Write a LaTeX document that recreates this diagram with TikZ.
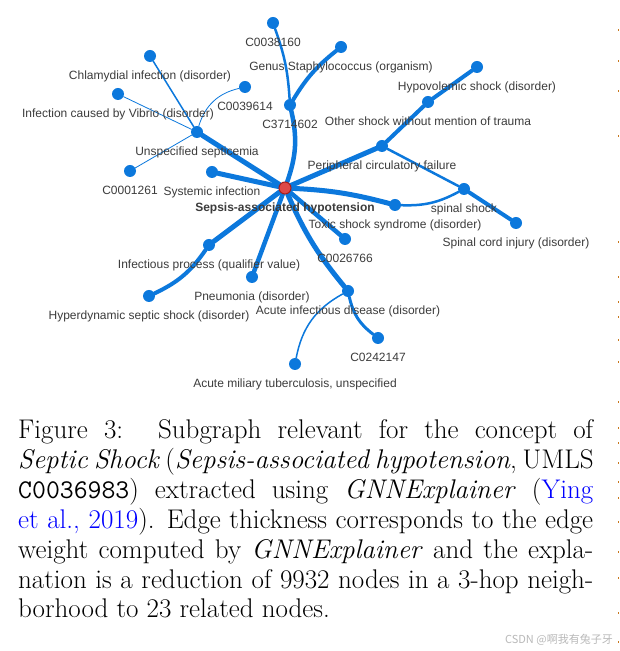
\documentclass[tikz,border=0pt]{standalone}
\usepackage{fontspec}
\newfontfamily\lsans{Liberation Sans}
\newfontfamily\cjkfont{Noto Sans CJK SC}
\usetikzlibrary{backgrounds}
\definecolor{eblue}{RGB}{12,120,220}
\definecolor{ltxt}{RGB}{60,60,60}
\definecolor{nred}{RGB}{222,72,72}
\definecolor{nredd}{RGB}{165,30,30}
\definecolor{cblue}{RGB}{0,0,255}
\definecolor{wmark}{RGB}{185,185,185}
\definecolor{tickc}{RGB}{200,120,30}
\begin{document}
\begin{tikzpicture}[x=1pt,y=1pt,
  gnode/.style={circle,fill=eblue,inner sep=0pt,minimum size=12pt},
  cnode/.style={circle,fill=nred,draw=nredd,line width=1pt,inner sep=0pt,minimum size=12pt},
  lbl/.style={font=\lsans\fontsize{12}{14}\selectfont,text=ltxt,inner sep=0pt,text height=9pt,text depth=3pt,label distance=8pt},
  blbl/.style={lbl,font=\lsans\bfseries\fontsize{12}{14}\selectfont},
  edge/.style={draw=eblue,line cap=round},
  w5/.style={edge,line width=5pt},
  w45/.style={edge,line width=4.5pt},
  w4/.style={edge,line width=4pt},
  w3/.style={edge,line width=3pt},
  w25/.style={edge,line width=2.5pt},
  w15/.style={edge,line width=1.5pt},
  w08/.style={edge,line width=0.8pt},
  capline/.style={anchor=base west,inner sep=0pt,font=\fontsize{27}{30}\selectfont},
  tickmark/.style={fill=tickc,inner sep=0pt,minimum width=1.5pt,minimum height=1.5pt}
]
\useasboundingbox (0,0) rectangle (620,651);

% graph nodes
\node[cnode,label={[blbl]below:Sepsis-associated hypotension}] (sah) at (285,463) {};
\node[gnode,label={[lbl]below:C0038160}] (c38) at (273,628) {};
\node[gnode,label={[lbl]below:Genus Staphylococcus (organism)}] (staph) at (341,604) {};
\node[gnode,label={[lbl]below:C3714602}] (c37) at (290,546) {};
\node[gnode,label={[lbl]below:Chlamydial infection (disorder)}] (chl) at (150,595) {};
\node[gnode,label={[lbl]below:C0039614}] (c39) at (245,564) {};
\node[gnode,label={[lbl]below:Infection caused by Vibrio (disorder)}] (vib) at (118,557) {};
\node[gnode,label={[lbl]below:Unspecified septicemia}] (uns) at (197,519) {};
\node[gnode,label={[lbl]below:C0001261}] (c01) at (130,480) {};
\node[gnode,label={[lbl]below:Systemic infection}] (sys) at (212,479) {};
\node[gnode,label={[lbl]below:Peripheral circulatory failure}] (per) at (382,505) {};
\node[gnode,label={[lbl]below:Other shock without mention of trauma}] (oth) at (428,549) {};
\node[gnode,label={[lbl]below:Hypovolemic shock (disorder)}] (hyp) at (477,584) {};
\node[gnode,label={[lbl]below:spinal shock}] (spi) at (464,462) {};
\node[gnode,label={[lbl]below:Spinal cord injury (disorder)}] (sci) at (516,428) {};
\node[gnode,label={[lbl]below:Toxic shock syndrome (disorder)}] (tox) at (395,446) {};
\node[gnode,label={[lbl]below:C0026766}] (c26) at (345,412) {};
\node[gnode,label={[lbl]below:Infectious process (qualifier value)}] (inf) at (209,406) {};
\node[gnode,label={[lbl]below:Pneumonia (disorder)}] (pne) at (252,374) {};
\node[gnode,label={[lbl]below:Hyperdynamic septic shock (disorder)}] (hdy) at (149,355) {};
\node[gnode,label={[lbl]below:Acute infectious disease (disorder)}] (acu) at (348,360) {};
\node[gnode,label={[lbl]below:C0242147}] (c24) at (378,313) {};
\node[gnode,label={[lbl]below:Acute miliary tuberculosis, unspecified}] (mil) at (295,287) {};

% edges
\begin{scope}[on background layer]
\fill[white] (0,0) rectangle (620,651);
\draw[w45] (sah) to[bend right=16] (c37);
\draw[w25] (c37) to[bend right=8] (c38);
\draw[w4] (c37) to[bend left=10] (staph);
\draw[w5] (sah) -- (uns);
\draw[w15] (uns) -- (chl);
\draw[w08] (uns) to[bend left=30] (c39);
\draw[w08] (uns) -- (vib);
\draw[w08] (uns) -- (c01);
\draw[w5] (sah) -- (sys);
\draw[w5] (sah) -- (per);
\draw[w4] (per) -- (oth);
\draw[w4] (oth) -- (hyp);
\draw[w25] (per) -- (spi);
\draw[w4] (spi) -- (sci);
\draw[w5] (sah) to[bend left=6] (tox);
\draw[w25] (tox) to[bend right=15] (spi);
\draw[w45] (sah) -- (c26);
\draw[w5] (sah) to[bend right=8] (acu);
\draw[w3] (acu) to[bend right=20] (c24);
\draw[w15] (acu) to[bend right=25] (mil);
\draw[w5] (sah) -- (inf);
\draw[w4] (inf) to[bend left=15] (hdy);
\draw[w45] (sah) -- (pne);
\end{scope}

% caption
\node[capline] (cap1) at (18,212) {\makebox[575pt][s]{Figure 3:\hspace{0.3em} Subgraph relevant for the concept of}};
\node[capline] (cap2) at (18,182) {\makebox[575pt][s]{\textit{Septic Shock} (\textit{Sepsis-associated hypotension}, UMLS}};
\node[capline] (cap3) at (18,152) {\makebox[575pt][s]{\texttt{C0036983}) extracted using \textit{GNNExplainer} (\textcolor{cblue}{Ying}}};
\node[capline] (cap4) at (18,122) {\makebox[575pt][s]{\textcolor{cblue}{et al., 2019}). Edge thickness corresponds to the edge}};
\node[capline] (cap5) at (18,92) {\makebox[575pt][s]{weight computed by \textit{GNNExplainer} and the expla-}};
\node[capline] (cap6) at (18,62) {\makebox[575pt][s]{nation is a reduction of 9932 nodes in a 3-hop neigh-}};
\node[capline] (cap7) at (18,33) {borhood to 23 related nodes.};

% watermark
\node[anchor=east,inner sep=0pt,text=wmark,font=\cjkfont\fontsize{11}{13}\selectfont] (wm) at (613,11) {CSDN @啊我有兔子牙};

% fragments of the neighbouring column
\foreach \yy [count=\i] in {30,61,91,136,242,277,302,317,340,362,402,428,443,463,482,498,522,552,578,613,642}
  \node[tickmark] (tk\i) at (618.5,651-\yy) {};
\end{tikzpicture}
\end{document}
